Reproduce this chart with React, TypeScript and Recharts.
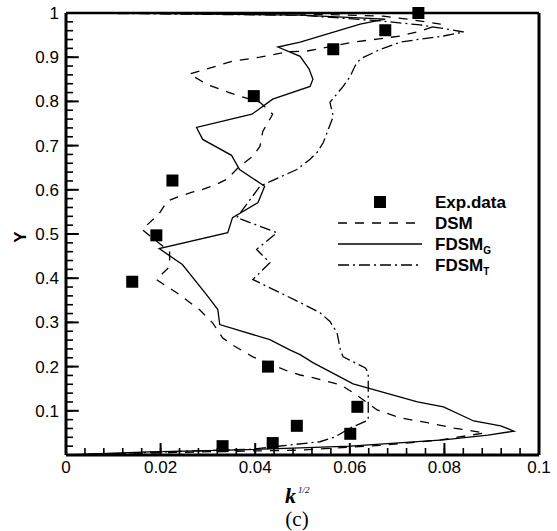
import React from 'react';
import {
  ComposedChart,
  Line,
  Scatter,
  XAxis,
  YAxis,
  ReferenceLine,
} from 'recharts';

// measured profiles, listed in drawing order (bottom wall -> top wall)
const expX = [0.0745, 0.0675, 0.0565, 0.0397, 0.0225, 0.0191, 0.014, 0.0427, 0.0616, 0.0488, 0.0601, 0.0437, 0.0331];
const expY = [1.0, 0.961, 0.918, 0.812, 0.621, 0.497, 0.392, 0.2, 0.109, 0.066, 0.048, 0.027, 0.02];

const dsmX = [0, 0.0282, 0.0495, 0.0665, 0.0792, 0.0885, 0.082, 0.0764, 0.0707, 0.0658, 0.0607, 0.058, 0.0522, 0.0495, 0.0473, 0.0395, 0.0352, 0.0331, 0.031, 0.0282, 0.0234, 0.0191, 0.0219, 0.0219, 0.0161, 0.0197, 0.0214, 0.0234, 0.0265, 0.0289, 0.0318, 0.034, 0.0367, 0.0395, 0.041, 0.0416, 0.0437, 0.041, 0.0367, 0.0342, 0.0297, 0.0261, 0.0297, 0.0352, 0.041, 0.0467, 0.051, 0.0607, 0.0658, 0.0707, 0.0749, 0.0792, 0.0722, 0.0671, 0.0495, 0];
const dsmY = [0, 0.007, 0.011, 0.022, 0.034, 0.05, 0.061, 0.073, 0.084, 0.102, 0.141, 0.159, 0.175, 0.181, 0.188, 0.222, 0.249, 0.265, 0.299, 0.329, 0.367, 0.397, 0.426, 0.46, 0.51, 0.546, 0.574, 0.583, 0.594, 0.601, 0.612, 0.624, 0.653, 0.676, 0.698, 0.732, 0.771, 0.798, 0.812, 0.821, 0.839, 0.862, 0.873, 0.891, 0.9, 0.912, 0.914, 0.934, 0.941, 0.948, 0.959, 0.975, 0.986, 0.993, 0.998, 1.0];

const fdsmGX = [0, 0.0176, 0.0346, 0.0495, 0.0601, 0.0798, 0.0892, 0.0947, 0.0919, 0.0862, 0.0798, 0.0743, 0.0607, 0.0522, 0.0495, 0.0473, 0.0431, 0.0325, 0.0321, 0.0297, 0.0246, 0.0197, 0.0342, 0.0352, 0.0406, 0.042, 0.0367, 0.035, 0.0289, 0.0276, 0.0393, 0.0437, 0.0516, 0.0522, 0.0514, 0.0495, 0.0448, 0.0495, 0.0622, 0.0675, 0.0495, 0.0176, 0];
const fdsmGY = [0, 0.007, 0.011, 0.016, 0.02, 0.034, 0.045, 0.054, 0.066, 0.077, 0.109, 0.12, 0.161, 0.209, 0.227, 0.238, 0.261, 0.295, 0.329, 0.363, 0.431, 0.467, 0.503, 0.537, 0.571, 0.608, 0.646, 0.678, 0.714, 0.741, 0.771, 0.805, 0.834, 0.85, 0.873, 0.902, 0.923, 0.934, 0.975, 0.986, 0.995, 0.999, 1.0];

const fdsmTX = [0, 0.039, 0.0537, 0.0569, 0.0601, 0.0639, 0.0639, 0.0639, 0.0633, 0.0586, 0.058, 0.0573, 0.0558, 0.0537, 0.0495, 0.0395, 0.0431, 0.0403, 0.0446, 0.0361, 0.041, 0.0488, 0.0516, 0.0531, 0.0544, 0.0565, 0.0558, 0.0586, 0.0601, 0.0611, 0.0622, 0.0665, 0.0707, 0.0749, 0.0798, 0.0841, 0.0803, 0.0749, 0.0665, 0.0495, 0];
const fdsmTY = [0, 0.013, 0.03, 0.041, 0.061, 0.079, 0.136, 0.186, 0.197, 0.222, 0.238, 0.277, 0.302, 0.322, 0.345, 0.397, 0.435, 0.465, 0.503, 0.537, 0.608, 0.646, 0.669, 0.685, 0.707, 0.766, 0.798, 0.834, 0.857, 0.88, 0.896, 0.918, 0.934, 0.941, 0.948, 0.957, 0.964, 0.973, 0.982, 0.995, 1.0];

const xTickLabels = ['0', '0.02', '0.04', '0.06', '0.08', '0.1'];
const yTickLabels = ['0.1', '0.2', '0.3', '0.4', '0.5', '0.6', '0.7', '0.8', '0.9', '1'];

const zip = (xs: number[], ys: number[]) => xs.map((x, i) => ({ x, y: ys[i] }));
const expData = zip(expX, expY);
const dsmData = zip(dsmX, dsmY);
const fdsmGData = zip(fdsmGX, fdsmGY);
const fdsmTData = zip(fdsmTX, fdsmTY);

// minor ticks every 0.004 on x, 0.02 on y
const xTicks = Array.from({ length: 26 }, (_, i) => +(i * 0.004).toFixed(3));
const yTicks = Array.from({ length: 51 }, (_, i) => +(i * 0.02).toFixed(2));
const isMajorX = (v: number) => xTickLabels.some((l) => Math.abs(parseFloat(l) - v) < 1e-6);
const isMajorY = (v: number) => Math.abs(v * 10 - Math.round(v * 10)) < 1e-6;

const font = '"Liberation Sans", Arial, sans-serif';
const serif = '"Liberation Serif", "Times New Roman", serif';
const DASH = '9 8';
const DASHDOT = '11 4 2 4';
const TICK = 7; // inward length of Recharts' own tick lines

const XTick = (props: any) => {
  const { x, y, payload } = props;
  const label = xTickLabels.find((l) => Math.abs(parseFloat(l) - payload.value) < 1e-6);
  if (!label) return <g />;
  return (
    <text x={x} y={y + TICK + 18} textAnchor="middle" fontSize={17} fontFamily={font} fill="#000">
      {label}
    </text>
  );
};

const YTick = (props: any) => {
  const { x, y, payload } = props;
  const label = yTickLabels.find((l) => Math.abs(parseFloat(l) - payload.value) < 1e-6);
  if (!label) return <g />;
  return (
    <text x={x - TICK - 7} y={y + 6} textAnchor="end" fontSize={17} fontFamily={font} fill="#000">
      {label}
    </text>
  );
};

export default function App() {
  return (
    <div style={{ position: 'absolute', left: 0, top: 0, width: 557, height: 531, background: '#fff' }}>
      <ComposedChart width={557} height={531} margin={{ top: 13, right: 18, bottom: 46, left: 6 }}>
        <XAxis
          dataKey="x"
          type="number"
          domain={[0, 0.1]}
          ticks={xTicks}
          interval={0}
          tickSize={-TICK}
          tickMargin={0}
          tickLine={{ stroke: '#000', strokeWidth: 1.6 }}
          tick={<XTick />}
          height={30}
          axisLine={{ stroke: '#000', strokeWidth: 3 }}
        />
        <YAxis
          dataKey="y"
          type="number"
          domain={[0, 1]}
          ticks={yTicks}
          interval={0}
          tickSize={-TICK}
          tickMargin={0}
          tickLine={{ stroke: '#000', strokeWidth: 1.6 }}
          tick={<YTick />}
          width={60}
          axisLine={{ stroke: '#000', strokeWidth: 3 }}
        />
        {/* longer marks at the labelled ticks */}
        {xTicks.filter(isMajorX).map((v) => (
          <ReferenceLine
            key={`xt${v}`}
            segment={[{ x: v, y: 0 }, { x: v, y: 0.027 }]}
            stroke="#000"
            strokeWidth={2}
            ifOverflow="visible"
          />
        ))}
        {yTicks.filter(isMajorY).map((v) => (
          <ReferenceLine
            key={`yt${v}`}
            segment={[{ x: 0, y: v }, { x: 0.0027, y: v }]}
            stroke="#000"
            strokeWidth={2}
            ifOverflow="visible"
          />
        ))}
        <ReferenceLine y={1} stroke="#000" strokeWidth={2.5} />
        <ReferenceLine x={0.1} stroke="#000" strokeWidth={3} />
        <Line data={dsmData} dataKey="y" type="linear" stroke="#000" strokeWidth={1.3} strokeDasharray={DASH} dot={false} isAnimationActive={false} />
        <Line data={fdsmGData} dataKey="y" type="linear" stroke="#000" strokeWidth={1.3} dot={false} isAnimationActive={false} />
        <Line data={fdsmTData} dataKey="y" type="linear" stroke="#000" strokeWidth={1.3} strokeDasharray={DASHDOT} dot={false} isAnimationActive={false} />
        <Scatter
          data={expData}
          dataKey="y"
          fill="#000"
          isAnimationActive={false}
          shape={(p: any) => <rect x={p.cx - 6} y={p.cy - 6} width={12} height={12} fill="#000" />}
        />
      </ComposedChart>
      <svg width={557} height={531} style={{ position: 'absolute', left: 0, top: 0, pointerEvents: 'none' }}>
        {/* legend */}
        <rect x={374} y={196} width={12} height={12} fill="#000" />
        <line x1={338} x2={422} y1={223} y2={223} stroke="#000" strokeWidth={1.3} strokeDasharray={DASH} />
        <line x1={338} x2={422} y1={244} y2={244} stroke="#000" strokeWidth={1.3} />
        <line x1={338} x2={422} y1={265} y2={265} stroke="#000" strokeWidth={1.3} strokeDasharray={DASHDOT} />
        <g fontFamily={font} fontWeight="bold" fontSize={17} fill="#000">
          <text x={435} y={208}>Exp.data</text>
          <text x={435} y={229}>DSM</text>
          <text x={435} y={250}>
            FDSM<tspan fontSize={10} dy={4}>G</tspan>
          </text>
          <text x={435} y={271}>
            FDSM<tspan fontSize={10} dy={4}>T</tspan>
          </text>
        </g>
        <text transform="translate(26,237) rotate(-90)" textAnchor="middle" fontFamily={font} fontWeight="bold" fontSize={17}>
          Y
        </text>
        <text x={285} y={503} fontFamily={serif} fontWeight="bold" fontStyle="italic" fontSize={22}>
          k
        </text>
        <text x={298} y={493} fontFamily={serif} fontStyle="italic" fontSize={9}>
          1/2
        </text>
        <text x={297} y={526} textAnchor="middle" fontFamily={serif} fontSize={21}>
          (c)
        </text>
      </svg>
    </div>
  );
}
